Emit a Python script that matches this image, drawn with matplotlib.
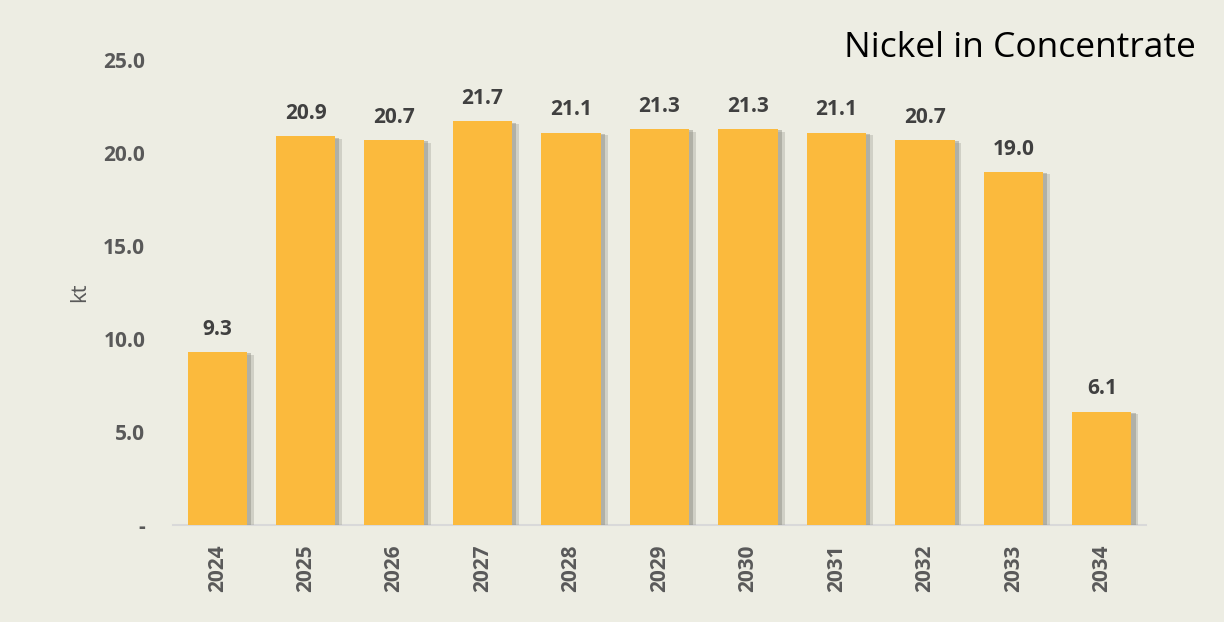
import matplotlib
matplotlib.use("Agg")
import matplotlib.pyplot as plt
import matplotlib.patheffects as pe

years = ["2024", "2025", "2026", "2027", "2028", "2029", "2030", "2031", "2032", "2033", "2034"]
values = [9.3, 20.9, 20.7, 21.7, 21.1, 21.3, 21.3, 21.1, 20.7, 19.0, 6.1]
yticks = [0, 5, 10, 15, 20, 25]
ytick_labels = ["-", "5.0", "10.0", "15.0", "20.0", "25.0"]
title = "Nickel in Concentrate"
ylabel = "kt"

bg = "#EDEDE3"
bar_color = "#FBBA3D"

plt.rcParams['font.family'] = ['Open Sans', 'DejaVu Sans']

fig = plt.figure(figsize=(12.24, 6.22), dpi=100, facecolor=bg)
ax = fig.add_axes([0.1413, 0.156, 0.795, 0.7475])
ax.set_facecolor(bg)

x = list(range(len(years)))
shadow = [pe.SimplePatchShadow(offset=(5, -2), shadow_rgbFace="#9A9A90", alpha=0.35),
          pe.SimplePatchShadow(offset=(3, -1), shadow_rgbFace="#8A8A80", alpha=0.45),
          pe.Normal()]
bars = ax.bar(x, values, width=0.67, color=bar_color, zorder=3, path_effects=shadow)

for xi, v in zip(x, values):
    ax.text(xi, v + 0.65, f"{v:.1f}", ha="center", va="bottom",
            fontsize=15, fontweight="bold", color="#404040")

ax.set_xlim(-0.5, len(years) - 0.5)
ax.set_ylim(0, 25)
ax.set_yticks(yticks)
ax.set_yticklabels(ytick_labels, fontsize=15, fontweight="bold", color="#595959")
ax.set_xticks(x)
ax.set_xticklabels(years, rotation=90, fontsize=15, fontweight="bold", color="#595959")
ax.tick_params(axis="both", length=0)
ax.tick_params(axis="y", pad=20)
ax.tick_params(axis="x", pad=14)

for s in ["top", "right", "left"]:
    ax.spines[s].set_visible(False)
ax.spines["bottom"].set_color("#D9D9D9")
ax.spines["bottom"].set_linewidth(1.5)

ax.set_ylabel(ylabel, fontsize=16, color="#595959")
ax.yaxis.set_label_coords(-0.085, 0.5)

fig.text(0.977, 0.908, title, ha="right", va="baseline", fontsize=25.5, color="#000000")

fig.savefig("out.png", dpi=100, facecolor=bg)
